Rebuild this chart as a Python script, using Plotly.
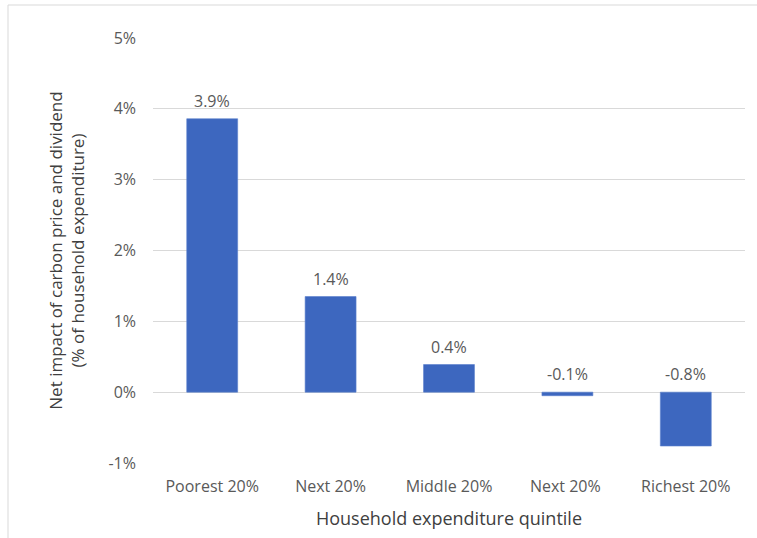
import plotly.graph_objects as go

categories = ["Poorest 20%", "Next 20%", "Middle 20%", "Next 20% ", "Richest 20%"]
values = [3.86, 1.35, 0.39, -0.05, -0.76]
labels = ["3.9%", "1.4%", "0.4%", "-0.1%", "-0.8%"]
tick_vals = [-1, 0, 1, 2, 3, 4, 5]
tick_text = ["-1%", "0%", "1%", "2%", "3%", "4%", "5%"]

W, H = 757, 538
ml, mr, mt, mb = 153, 12, 38, 75
text_color = "#595959"
font_family = "'Open Sans', sans-serif"

fig = go.Figure()
fig.add_trace(go.Bar(
    x=categories, y=values, width=0.43,
    marker=dict(color="#3D67BF", line=dict(color="#5A80CC", width=0.6)),
    hoverinfo="skip",
))

for c, v, t in zip(categories, values, labels):
    fig.add_annotation(x=c, y=max(v, 0), text=t, showarrow=False,
                       yanchor="bottom", yshift=5,
                       font=dict(size=16, color=text_color, family=font_family))

pw = W - ml - mr
ph = H - mt - mb
fig.add_shape(type="rect", xref="paper", yref="paper",
              x0=(8 - ml) / pw, x1=(W + 5 - ml) / pw,
              y0=-(H + 5 - mt - ph) / ph, y1=1 + (mt - 5) / ph,
              line=dict(color="#D9D9D9", width=1), fillcolor="rgba(0,0,0,0)",
              layer="below")

fig.update_layout(
    width=W, height=H,
    margin=dict(l=ml, r=mr, t=mt, b=mb),
    paper_bgcolor="white", plot_bgcolor="white",
    showlegend=False,
    font=dict(family=font_family, size=16, color=text_color),
    xaxis=dict(showgrid=False, showline=False, zeroline=False, ticks="",
               ticklabelstandoff=12,
               tickfont=dict(size=16, color=text_color),
               title=dict(text="Household expenditure quintile", standoff=16,
                          font=dict(size=18, color="#404040"))),
    yaxis=dict(range=[-1, 5], tickvals=tick_vals, ticktext=tick_text,
               showgrid=True, gridcolor="#D9D9D9", gridwidth=1,
               zeroline=True, zerolinecolor="#D9D9D9", zerolinewidth=1,
               showline=False, ticks="", ticklabelstandoff=16,
               tickfont=dict(size=16, color=text_color),
               title=dict(text="Net impact of carbon price and dividend<br>(% of household expenditure)",
                          standoff=19, font=dict(size=17, color="#404040"))),
)

fig.write_html("out.html")
